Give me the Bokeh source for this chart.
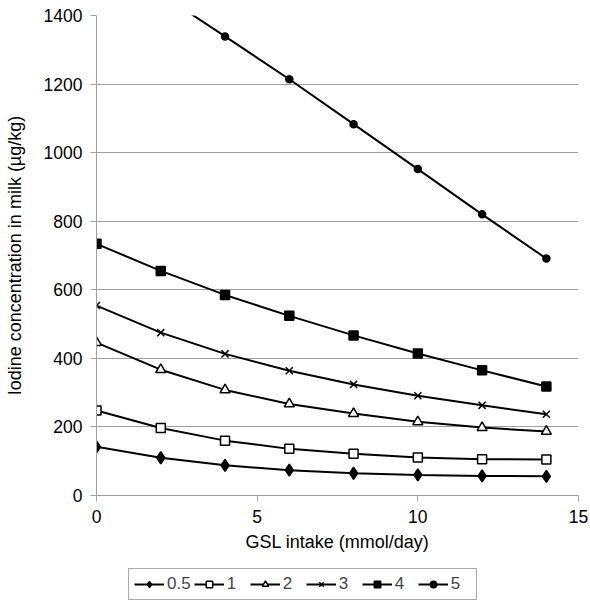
from bokeh.plotting import figure
from bokeh.layouts import column
from bokeh.models import Range1d, FixedTicker, Legend, LegendItem
from bokeh.embed import file_html
from bokeh.resources import INLINE

# ---- data ----
gsl = [0, 2, 4, 6, 8, 10, 12, 14]
series_names = ["0.5", "1", "2", "3", "4", "5"]
s05 = [142, 110, 88, 74, 65, 60, 57, 56]
s1 = [248, 197, 160, 136, 122, 111, 106, 105]
s2 = [446, 367, 308, 267, 239, 215, 198, 187]
s3 = [554, 475, 413, 364, 324, 291, 263, 237]
s4 = [734, 655, 585, 524, 467, 414, 365, 318]
s5 = [1590, 1463, 1339, 1214, 1083, 952, 820, 691]
x_ticks = [0, 5, 10, 15]
y_ticks = [0, 200, 400, 600, 800, 1000, 1200, 1400]

FONT = "Liberation Sans"

p = figure(width=590, height=565, output_backend="svg", toolbar_location=None,
           x_range=Range1d(0, 15), y_range=Range1d(0, 1400),
           min_border_left=96, min_border_right=12, min_border_top=15, min_border_bottom=70)
p.outline_line_color = None
p.background_fill_color = "white"
p.border_fill_color = "white"

p.xgrid.grid_line_color = None
p.ygrid.grid_line_color = "#a0a0a0"
p.ygrid.grid_line_width = 1

for ax in (p.xaxis[0], p.yaxis[0]):
    ax.axis_line_color = "#a0a0a0"
    ax.major_tick_line_color = "#a0a0a0"
    ax.minor_tick_line_color = None
    ax.major_tick_in = 0
    ax.major_tick_out = 6
    ax.major_label_text_font = FONT
    ax.major_label_text_font_size = "17.5px"
    ax.major_label_text_color = "black"
    ax.major_label_standoff = 8
    ax.axis_label_text_font = FONT
    ax.axis_label_text_font_size = "18px"
    ax.axis_label_text_font_style = "normal"
    ax.axis_label_text_color = "black"

p.xaxis[0].ticker = FixedTicker(ticks=x_ticks)
p.yaxis[0].ticker = FixedTicker(ticks=y_ticks)
p.xaxis[0].axis_label = "GSL intake (mmol/day)"
p.yaxis[0].axis_label = "Iodine concentration in milk (µg/kg)"
p.xaxis[0].axis_label_standoff = 6
p.yaxis[0].axis_label_standoff = 16

data = [s05, s1, s2, s3, s4, s5]
markers = ["diamond", "square", "triangle", "x", "square", "circle"]
fills = ["black", "white", "white", None, "black", "black"]
sizes = [12, 9, 10, 10, 9, 7]

for ys, mk, fc, sz in zip(data, markers, fills, sizes):
    p.line(gsl, ys, line_color="black", line_width=2)
    p.scatter(gsl, ys, marker=mk, size=sz, line_color="black",
              fill_color=fc, line_width=1.5)

# legend strip below the chart: same series, drawn outside its (hidden) view range
lf = figure(width=590, height=36, output_backend="svg", toolbar_location=None,
            x_range=Range1d(-2, -1), y_range=Range1d(-2, -1),
            min_border_left=0, min_border_right=0, min_border_top=0, min_border_bottom=0)
lf.axis.visible = False
lf.grid.visible = False
lf.outline_line_color = None
lf.background_fill_color = "white"
lf.border_fill_color = "white"

items = []
for name, ys, mk, fc, sz in zip(series_names, data, markers, fills, sizes):
    ln = lf.line(gsl, ys, line_color="black", line_width=2)
    sc = lf.scatter(gsl, ys, marker=mk, size=sz, line_color="black",
                    fill_color=fc, line_width=1.5)
    items.append(LegendItem(label=name, renderers=[ln, sc]))

legend = Legend(items=items, orientation="horizontal", location=(32, 1))
legend.label_text_font = FONT
legend.label_text_font_size = "17px"
legend.glyph_width = 30
legend.glyph_height = 16
legend.label_standoff = 3
legend.spacing = 3
legend.padding = 5
legend.margin = 0
legend.border_line_color = "#555555"
legend.border_line_width = 1
legend.background_fill_color = "white"
legend.background_fill_alpha = 1
lf.add_layout(legend, "center")

layout = column(p, lf, spacing=0)
open("out.html", "w").write(file_html(layout, INLINE))
